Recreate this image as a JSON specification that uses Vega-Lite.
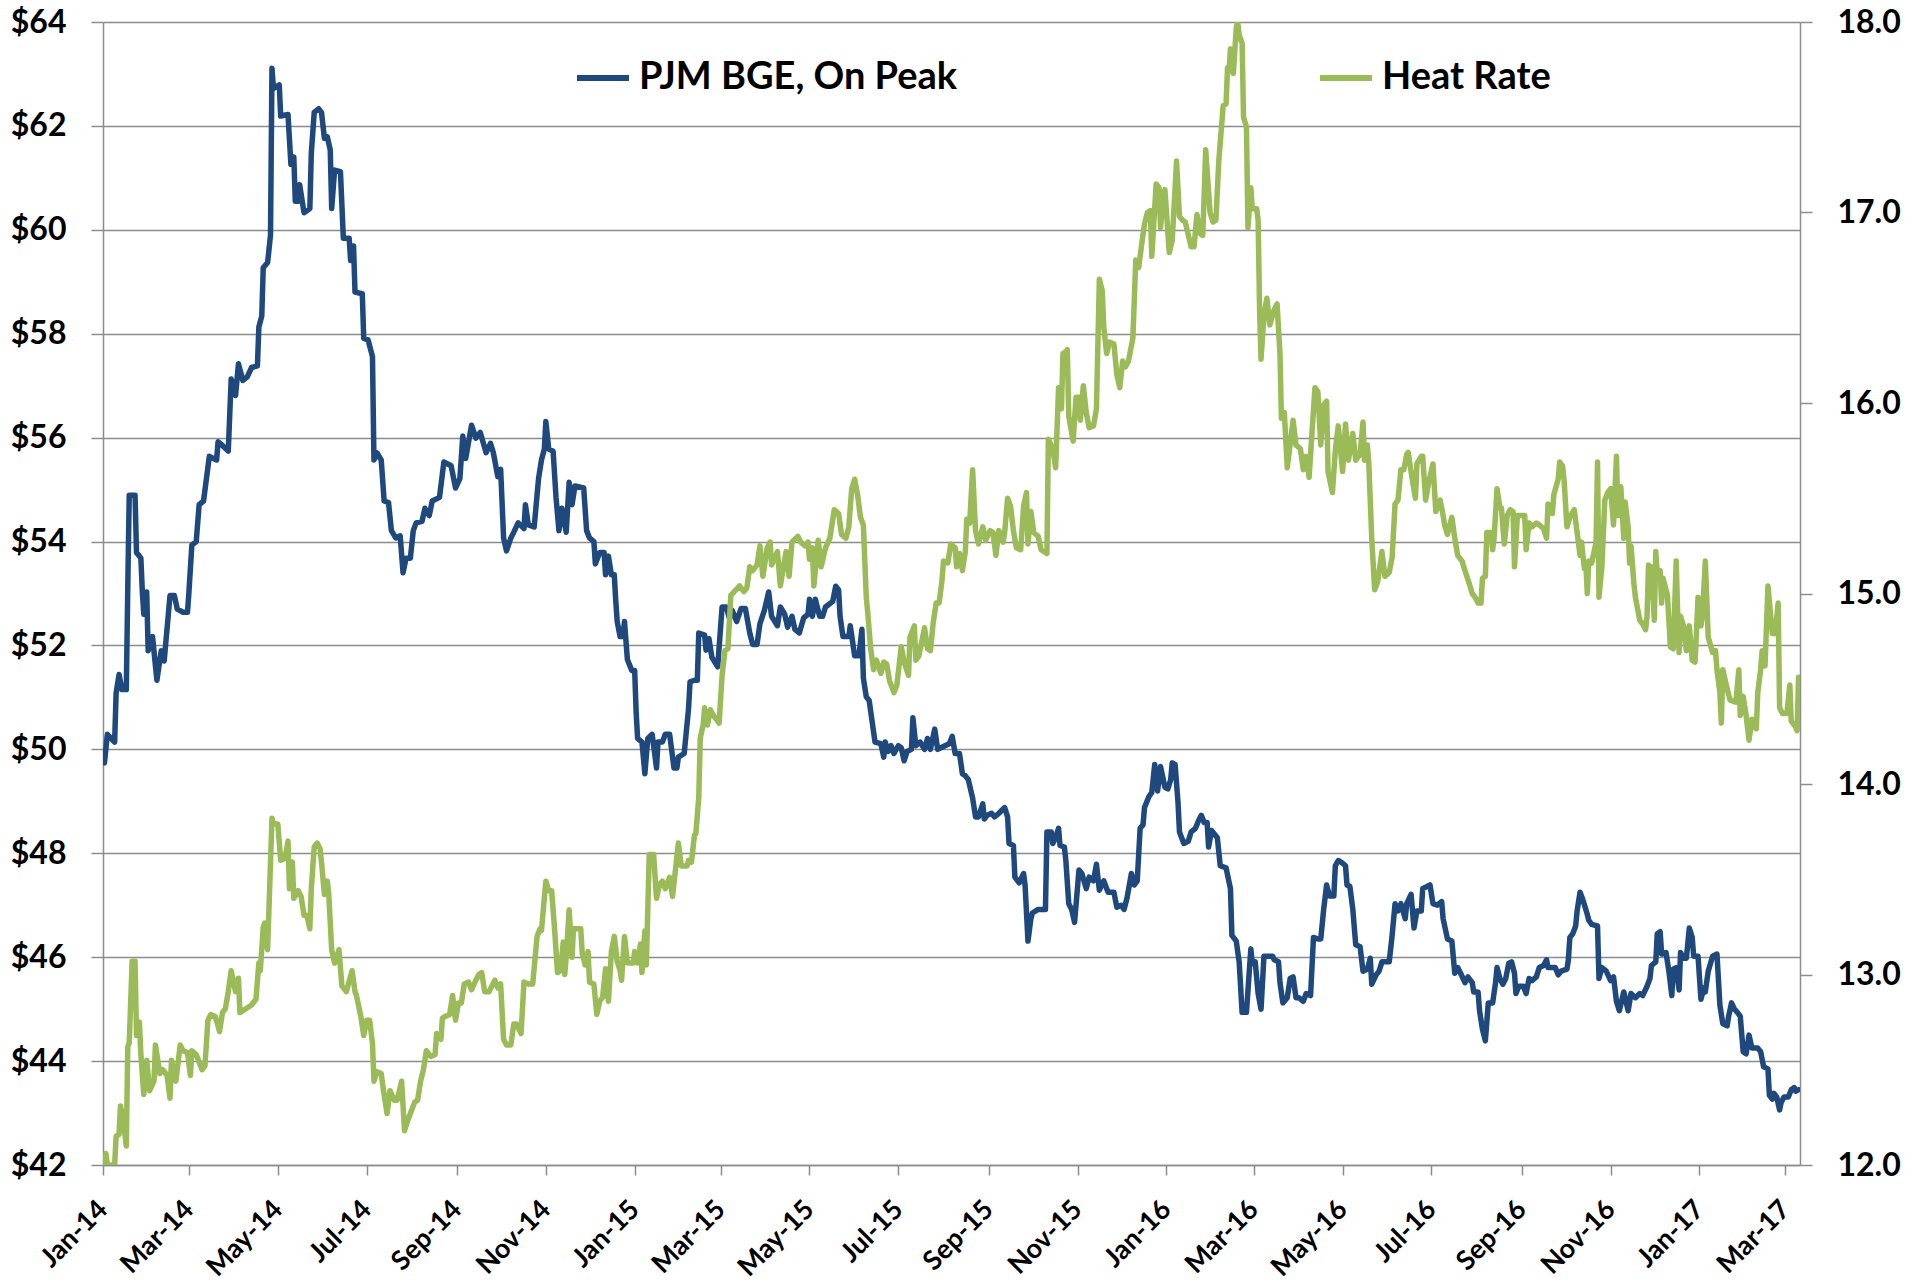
{
"$schema": "https://vega.github.io/schema/vega-lite/v6.json",
"width": 1697,
"height": 1143,
"autosize": {"type": "none"},
"padding": {"left": 103, "top": 22, "right": 127, "bottom": 116},
"background": "white",
"config": {"view": {"stroke": null}, "font": "Lato"},
"encoding": {
  "x": {"field": "d", "type": "temporal",
    "scale": {"domain": [{"year": 2014, "month": 1, "date": 1}, {"year": 2017, "month": 3, "date": 11}]},
    "axis": {"title": null, "format": "%b-%y", "tickCount": {"interval": "month", "step": 2}, "labelAngle": -45,
      "labelAlign": "right", "labelBaseline": "middle",
      "labelFont": "Lato", "labelFontSize": 27, "labelFontWeight": "bold", "labelColor": "black",
      "tickSize": 10, "tickColor": "#8c8c8c", "tickWidth": 1.5, "domainColor": "#8c8c8c", "domainWidth": 1.5,
      "grid": false, "labelPadding": 30, "labelOverlap": false, "labelFlush": false, "labelBound": false}}
},
"layer": [
{
  "data": {"format": {"parse": {"d": "date:'%Y-%j'"}}, "values": [
{"d":"2014-002","v":49.74},{"d":"2014-004","v":50.29},{"d":"2014-009","v":50.14},{"d":"2014-010","v":51.08},{"d":"2014-012","v":51.44},{"d":"2014-014","v":51.15},{"d":"2014-017","v":51.15},{"d":"2014-018","v":53.1},{"d":"2014-019","v":54.89},{"d":"2014-023","v":54.89},{"d":"2014-024","v":53.79},{"d":"2014-027","v":53.68},{"d":"2014-028","v":53.04},{"d":"2014-029","v":52.6},{"d":"2014-031","v":53.03},{"d":"2014-032","v":51.9},{"d":"2014-035","v":52.17},{"d":"2014-038","v":51.33},{"d":"2014-041","v":51.9},{"d":"2014-043","v":51.7},{"d":"2014-047","v":52.96},{"d":"2014-050","v":52.96},{"d":"2014-052","v":52.7},{"d":"2014-056","v":52.64},{"d":"2014-059","v":52.64},{"d":"2014-060","v":53.03},{"d":"2014-062","v":53.93},{"d":"2014-065","v":54.0},{"d":"2014-067","v":54.71},{"d":"2014-070","v":54.78},{"d":"2014-074","v":55.64},{"d":"2014-079","v":55.57},{"d":"2014-080","v":55.92},{"d":"2014-083","v":55.85},{"d":"2014-087","v":55.74},{"d":"2014-089","v":57.13},{"d":"2014-092","v":56.81},{"d":"2014-094","v":57.42},{"d":"2014-097","v":57.1},{"d":"2014-100","v":57.17},{"d":"2014-103","v":57.35},{"d":"2014-107","v":57.38},{"d":"2014-108","v":58.13},{"d":"2014-110","v":58.34},{"d":"2014-111","v":59.27},{"d":"2014-114","v":59.37},{"d":"2014-116","v":59.9},{"d":"2014-117","v":63.11},{"d":"2014-118","v":62.72},{"d":"2014-122","v":62.79},{"d":"2014-123","v":62.19},{"d":"2014-128","v":62.22},{"d":"2014-130","v":61.26},{"d":"2014-132","v":61.4},{"d":"2014-133","v":60.55},{"d":"2014-135","v":60.55},{"d":"2014-136","v":60.87},{"d":"2014-139","v":60.33},{"d":"2014-143","v":60.41},{"d":"2014-144","v":61.47},{"d":"2014-146","v":62.26},{"d":"2014-149","v":62.33},{"d":"2014-151","v":62.26},{"d":"2014-153","v":61.76},{"d":"2014-155","v":61.79},{"d":"2014-157","v":61.54},{"d":"2014-158","v":60.41},{"d":"2014-160","v":61.15},{"d":"2014-164","v":61.12},{"d":"2014-166","v":59.84},{"d":"2014-170","v":59.84},{"d":"2014-171","v":59.41},{"d":"2014-173","v":59.69},{"d":"2014-174","v":58.8},{"d":"2014-179","v":58.77},{"d":"2014-180","v":57.91},{"d":"2014-183","v":57.88},{"d":"2014-186","v":57.56},{"d":"2014-187","v":55.57},{"d":"2014-189","v":55.71},{"d":"2014-192","v":55.57},{"d":"2014-194","v":54.78},{"d":"2014-197","v":54.75},{"d":"2014-199","v":54.21},{"d":"2014-202","v":54.07},{"d":"2014-205","v":54.11},{"d":"2014-207","v":53.4},{"d":"2014-209","v":53.68},{"d":"2014-212","v":53.68},{"d":"2014-214","v":54.21},{"d":"2014-216","v":54.36},{"d":"2014-220","v":54.39},{"d":"2014-222","v":54.64},{"d":"2014-225","v":54.5},{"d":"2014-227","v":54.78},{"d":"2014-232","v":54.85},{"d":"2014-235","v":55.53},{"d":"2014-240","v":55.46},{"d":"2014-243","v":55.03},{"d":"2014-246","v":55.21},{"d":"2014-248","v":56.03},{"d":"2014-250","v":55.6},{"d":"2014-254","v":56.24},{"d":"2014-257","v":55.99},{"d":"2014-260","v":56.1},{"d":"2014-264","v":55.71},{"d":"2014-267","v":55.89},{"d":"2014-269","v":55.71},{"d":"2014-272","v":55.25},{"d":"2014-274","v":55.39},{"d":"2014-276","v":54.07},{"d":"2014-278","v":53.82},{"d":"2014-281","v":54.07},{"d":"2014-283","v":54.18},{"d":"2014-286","v":54.36},{"d":"2014-290","v":54.25},{"d":"2014-291","v":54.71},{"d":"2014-293","v":54.32},{"d":"2014-297","v":54.28},{"d":"2014-300","v":55.21},{"d":"2014-302","v":55.57},{"d":"2014-304","v":55.78},{"d":"2014-305","v":56.31},{"d":"2014-307","v":55.78},{"d":"2014-310","v":55.74},{"d":"2014-312","v":54.85},{"d":"2014-314","v":54.21},{"d":"2014-316","v":54.64},{"d":"2014-319","v":54.18},{"d":"2014-321","v":55.14},{"d":"2014-323","v":54.71},{"d":"2014-325","v":55.07},{"d":"2014-331","v":55.03},{"d":"2014-333","v":54.21},{"d":"2014-335","v":54.07},{"d":"2014-338","v":54.0},{"d":"2014-339","v":53.57},{"d":"2014-342","v":53.79},{"d":"2014-345","v":53.79},{"d":"2014-346","v":53.36},{"d":"2014-348","v":53.72},{"d":"2014-350","v":53.36},{"d":"2014-352","v":53.36},{"d":"2014-353","v":52.86},{"d":"2014-354","v":52.46},{"d":"2014-356","v":52.17},{"d":"2014-358","v":52.17},{"d":"2014-359","v":52.46},{"d":"2014-361","v":51.73},{"d":"2014-364","v":51.52},{"d":"2015-001","v":51.52},{"d":"2015-002","v":50.72},{"d":"2015-003","v":50.21},{"d":"2015-006","v":50.14},{"d":"2015-008","v":49.53},{"d":"2015-010","v":50.21},{"d":"2015-013","v":50.29},{"d":"2015-016","v":49.64},{"d":"2015-017","v":50.14},{"d":"2015-020","v":50.14},{"d":"2015-022","v":50.29},{"d":"2015-025","v":50.29},{"d":"2015-028","v":49.64},{"d":"2015-030","v":49.64},{"d":"2015-031","v":49.85},{"d":"2015-035","v":49.92},{"d":"2015-038","v":50.79},{"d":"2015-039","v":51.3},{"d":"2015-042","v":51.33},{"d":"2015-044","v":51.33},{"d":"2015-045","v":52.24},{"d":"2015-049","v":52.2},{"d":"2015-050","v":51.91},{"d":"2015-052","v":52.13},{"d":"2015-054","v":51.77},{"d":"2015-058","v":51.59},{"d":"2015-061","v":52.74},{"d":"2015-064","v":52.74},{"d":"2015-066","v":52.53},{"d":"2015-068","v":52.67},{"d":"2015-071","v":52.46},{"d":"2015-074","v":52.71},{"d":"2015-077","v":52.71},{"d":"2015-080","v":52.24},{"d":"2015-082","v":52.02},{"d":"2015-085","v":52.02},{"d":"2015-087","v":52.42},{"d":"2015-090","v":52.67},{"d":"2015-093","v":53.03},{"d":"2015-095","v":52.56},{"d":"2015-099","v":52.38},{"d":"2015-101","v":52.74},{"d":"2015-104","v":52.6},{"d":"2015-106","v":52.35},{"d":"2015-109","v":52.56},{"d":"2015-111","v":52.31},{"d":"2015-114","v":52.24},{"d":"2015-117","v":52.53},{"d":"2015-120","v":52.6},{"d":"2015-121","v":52.89},{"d":"2015-123","v":52.56},{"d":"2015-125","v":52.89},{"d":"2015-128","v":52.56},{"d":"2015-130","v":52.56},{"d":"2015-132","v":52.74},{"d":"2015-137","v":52.85},{"d":"2015-139","v":53.14},{"d":"2015-141","v":53.07},{"d":"2015-142","v":52.56},{"d":"2015-144","v":52.17},{"d":"2015-148","v":52.17},{"d":"2015-149","v":52.38},{"d":"2015-152","v":51.8},{"d":"2015-155","v":51.8},{"d":"2015-157","v":52.31},{"d":"2015-158","v":51.37},{"d":"2015-160","v":51.01},{"d":"2015-162","v":50.94},{"d":"2015-164","v":50.54},{"d":"2015-166","v":50.14},{"d":"2015-170","v":50.11},{"d":"2015-172","v":49.85},{"d":"2015-173","v":50.14},{"d":"2015-175","v":49.96},{"d":"2015-177","v":50.07},{"d":"2015-179","v":49.92},{"d":"2015-182","v":50.07},{"d":"2015-184","v":50.03},{"d":"2015-186","v":49.78},{"d":"2015-188","v":49.96},{"d":"2015-191","v":50.0},{"d":"2015-192","v":50.61},{"d":"2015-194","v":50.07},{"d":"2015-197","v":50.14},{"d":"2015-200","v":50.0},{"d":"2015-202","v":50.21},{"d":"2015-204","v":50.0},{"d":"2015-207","v":50.39},{"d":"2015-209","v":50.0},{"d":"2015-214","v":50.07},{"d":"2015-217","v":50.11},{"d":"2015-219","v":50.25},{"d":"2015-221","v":49.92},{"d":"2015-224","v":49.92},{"d":"2015-226","v":49.53},{"d":"2015-228","v":49.49},{"d":"2015-230","v":49.42},{"d":"2015-233","v":49.06},{"d":"2015-235","v":48.7},{"d":"2015-237","v":48.7},{"d":"2015-240","v":48.95},{"d":"2015-241","v":48.66},{"d":"2015-243","v":48.73},{"d":"2015-246","v":48.77},{"d":"2015-248","v":48.7},{"d":"2015-251","v":48.77},{"d":"2015-255","v":48.88},{"d":"2015-257","v":48.7},{"d":"2015-258","v":48.19},{"d":"2015-261","v":48.15},{"d":"2015-262","v":47.54},{"d":"2015-265","v":47.43},{"d":"2015-268","v":47.61},{"d":"2015-269","v":47.39},{"d":"2015-271","v":46.31},{"d":"2015-273","v":46.74},{"d":"2015-274","v":46.85},{"d":"2015-278","v":46.92},{"d":"2015-283","v":46.92},{"d":"2015-284","v":48.41},{"d":"2015-287","v":48.41},{"d":"2015-288","v":48.19},{"d":"2015-290","v":48.3},{"d":"2015-292","v":48.48},{"d":"2015-293","v":48.15},{"d":"2015-296","v":48.12},{"d":"2015-297","v":47.86},{"d":"2015-299","v":47.03},{"d":"2015-301","v":46.92},{"d":"2015-303","v":46.67},{"d":"2015-306","v":47.68},{"d":"2015-308","v":47.61},{"d":"2015-311","v":47.32},{"d":"2015-313","v":47.54},{"d":"2015-316","v":47.47},{"d":"2015-318","v":47.79},{"d":"2015-320","v":47.29},{"d":"2015-323","v":47.47},{"d":"2015-326","v":47.25},{"d":"2015-330","v":47.25},{"d":"2015-332","v":46.96},{"d":"2015-335","v":47.0},{"d":"2015-337","v":46.92},{"d":"2015-339","v":47.14},{"d":"2015-342","v":47.61},{"d":"2015-344","v":47.39},{"d":"2015-346","v":47.47},{"d":"2015-348","v":48.48},{"d":"2015-350","v":48.55},{"d":"2015-351","v":48.88},{"d":"2015-354","v":49.09},{"d":"2015-356","v":49.17},{"d":"2015-358","v":49.71},{"d":"2015-360","v":49.2},{"d":"2015-362","v":49.67},{"d":"2015-365","v":49.27},{"d":"2016-002","v":49.24},{"d":"2016-004","v":49.42},{"d":"2016-005","v":49.74},{"d":"2016-007","v":49.71},{"d":"2016-009","v":48.98},{"d":"2016-010","v":48.41},{"d":"2016-013","v":48.19},{"d":"2016-016","v":48.23},{"d":"2016-018","v":48.41},{"d":"2016-021","v":48.48},{"d":"2016-023","v":48.62},{"d":"2016-025","v":48.73},{"d":"2016-027","v":48.59},{"d":"2016-029","v":48.59},{"d":"2016-030","v":48.12},{"d":"2016-032","v":48.44},{"d":"2016-036","v":48.3},{"d":"2016-038","v":47.76},{"d":"2016-042","v":47.72},{"d":"2016-045","v":47.32},{"d":"2016-046","v":46.42},{"d":"2016-049","v":46.31},{"d":"2016-051","v":45.9},{"d":"2016-053","v":44.94},{"d":"2016-056","v":44.94},{"d":"2016-059","v":46.16},{"d":"2016-060","v":45.88},{"d":"2016-062","v":45.91},{"d":"2016-064","v":45.3},{"d":"2016-066","v":45.0},{"d":"2016-068","v":46.02},{"d":"2016-074","v":46.02},{"d":"2016-075","v":45.95},{"d":"2016-078","v":45.91},{"d":"2016-079","v":45.51},{"d":"2016-081","v":45.12},{"d":"2016-084","v":45.22},{"d":"2016-086","v":45.59},{"d":"2016-088","v":45.62},{"d":"2016-090","v":45.22},{"d":"2016-092","v":45.22},{"d":"2016-095","v":45.15},{"d":"2016-097","v":45.3},{"d":"2016-100","v":45.26},{"d":"2016-102","v":46.38},{"d":"2016-105","v":46.35},{"d":"2016-107","v":46.35},{"d":"2016-109","v":46.92},{"d":"2016-111","v":47.39},{"d":"2016-113","v":47.18},{"d":"2016-116","v":47.18},{"d":"2016-117","v":47.76},{"d":"2016-119","v":47.86},{"d":"2016-121","v":47.83},{"d":"2016-124","v":47.76},{"d":"2016-125","v":47.39},{"d":"2016-127","v":47.36},{"d":"2016-129","v":46.92},{"d":"2016-131","v":46.24},{"d":"2016-134","v":46.2},{"d":"2016-136","v":45.73},{"d":"2016-139","v":45.77},{"d":"2016-141","v":45.98},{"d":"2016-142","v":45.48},{"d":"2016-145","v":45.66},{"d":"2016-147","v":45.73},{"d":"2016-149","v":45.91},{"d":"2016-154","v":45.91},{"d":"2016-156","v":46.42},{"d":"2016-158","v":47.03},{"d":"2016-160","v":46.89},{"d":"2016-162","v":47.03},{"d":"2016-165","v":46.74},{"d":"2016-166","v":47.03},{"d":"2016-169","v":47.21},{"d":"2016-171","v":46.56},{"d":"2016-173","v":46.89},{"d":"2016-176","v":46.89},{"d":"2016-177","v":47.32},{"d":"2016-180","v":47.36},{"d":"2016-182","v":47.39},{"d":"2016-184","v":47.03},{"d":"2016-187","v":47.0},{"d":"2016-190","v":47.07},{"d":"2016-191","v":46.74},{"d":"2016-194","v":46.35},{"d":"2016-197","v":46.31},{"d":"2016-199","v":45.69},{"d":"2016-201","v":45.8},{"d":"2016-203","v":45.69},{"d":"2016-206","v":45.51},{"d":"2016-208","v":45.62},{"d":"2016-211","v":45.51},{"d":"2016-212","v":45.33},{"d":"2016-215","v":45.33},{"d":"2016-216","v":44.97},{"d":"2016-218","v":44.61},{"d":"2016-220","v":44.39},{"d":"2016-222","v":45.12},{"d":"2016-225","v":45.12},{"d":"2016-227","v":45.51},{"d":"2016-228","v":45.8},{"d":"2016-230","v":45.59},{"d":"2016-232","v":45.48},{"d":"2016-234","v":45.59},{"d":"2016-236","v":45.88},{"d":"2016-238","v":45.91},{"d":"2016-240","v":45.69},{"d":"2016-241","v":45.3},{"d":"2016-243","v":45.44},{"d":"2016-246","v":45.44},{"d":"2016-248","v":45.3},{"d":"2016-250","v":45.59},{"d":"2016-252","v":45.55},{"d":"2016-255","v":45.62},{"d":"2016-257","v":45.8},{"d":"2016-260","v":45.84},{"d":"2016-262","v":45.95},{"d":"2016-263","v":45.8},{"d":"2016-268","v":45.8},{"d":"2016-270","v":45.66},{"d":"2016-272","v":45.73},{"d":"2016-276","v":45.77},{"d":"2016-277","v":45.95},{"d":"2016-278","v":46.38},{"d":"2016-280","v":46.45},{"d":"2016-282","v":46.6},{"d":"2016-283","v":46.89},{"d":"2016-285","v":47.25},{"d":"2016-287","v":47.1},{"d":"2016-290","v":46.82},{"d":"2016-291","v":46.71},{"d":"2016-293","v":46.63},{"d":"2016-297","v":46.6},{"d":"2016-298","v":45.59},{"d":"2016-300","v":45.8},{"d":"2016-303","v":45.73},{"d":"2016-306","v":45.55},{"d":"2016-308","v":45.62},{"d":"2016-310","v":45.15},{"d":"2016-312","v":44.97},{"d":"2016-315","v":45.33},{"d":"2016-316","v":45.22},{"d":"2016-318","v":44.97},{"d":"2016-320","v":45.3},{"d":"2016-323","v":45.22},{"d":"2016-326","v":45.3},{"d":"2016-328","v":45.26},{"d":"2016-331","v":45.44},{"d":"2016-333","v":45.59},{"d":"2016-334","v":45.84},{"d":"2016-337","v":45.91},{"d":"2016-338","v":46.45},{"d":"2016-340","v":46.49},{"d":"2016-341","v":46.06},{"d":"2016-344","v":46.09},{"d":"2016-346","v":45.73},{"d":"2016-348","v":45.26},{"d":"2016-349","v":45.77},{"d":"2016-351","v":45.8},{"d":"2016-353","v":45.37},{"d":"2016-354","v":46.09},{"d":"2016-356","v":45.98},{"d":"2016-358","v":45.98},{"d":"2016-360","v":46.56},{"d":"2016-362","v":46.38},{"d":"2016-363","v":46.02},{"d":"2016-366","v":46.02},{"d":"2017-002","v":45.19},{"d":"2017-004","v":45.41},{"d":"2017-005","v":45.33},{"d":"2017-007","v":45.73},{"d":"2017-010","v":46.02},{"d":"2017-013","v":46.06},{"d":"2017-015","v":45.08},{"d":"2017-017","v":44.72},{"d":"2017-020","v":44.68},{"d":"2017-021","v":44.86},{"d":"2017-023","v":45.12},{"d":"2017-025","v":45.0},{"d":"2017-027","v":44.94},{"d":"2017-029","v":44.86},{"d":"2017-031","v":44.18},{"d":"2017-033","v":44.14},{"d":"2017-035","v":44.5},{"d":"2017-037","v":44.25},{"d":"2017-041","v":44.25},{"d":"2017-043","v":44.18},{"d":"2017-045","v":43.89},{"d":"2017-048","v":43.85},{"d":"2017-049","v":43.34},{"d":"2017-051","v":43.27},{"d":"2017-052","v":43.38},{"d":"2017-054","v":43.31},{"d":"2017-056","v":43.06},{"d":"2017-057","v":43.2},{"d":"2017-059","v":43.31},{"d":"2017-062","v":43.31},{"d":"2017-064","v":43.45},{"d":"2017-066","v":43.49},{"d":"2017-067","v":43.42},{"d":"2017-069","v":43.45}
  ]},
  "mark": {"type": "line", "strokeWidth": 5.5, "strokeJoin": "round", "strokeCap": "round", "clip": true},
  "encoding": {
    "y": {"field": "v", "type": "quantitative",
      "scale": {"domain": [42, 64], "nice": false, "zero": false},
      "axis": {"orient": "left", "title": null, "values": [42,44,46,48,50,52,54,56,58,60,62,64], "format": "$.0f",
        "labelFont": "Lato", "labelFontSize": 32, "labelFontWeight": "bold", "labelColor": "black", "labelPadding": 25,
        "tickSize": 12, "tickColor": "#8c8c8c", "tickWidth": 1.5, "domainColor": "#8c8c8c", "domainWidth": 1.5,
        "grid": true, "gridColor": "#8c8c8c", "gridWidth": 1.5}},
    "color": {"datum": "PJM BGE, On Peak", "type": "nominal",
      "scale": {"domain": ["PJM BGE, On Peak", "Heat Rate"], "range": ["#1F497D", "#9BBB59"]},
      "legend": {"orient": "none", "legendX": 471, "legendY": 27, "direction": "horizontal", "title": null,
        "symbolType": "stroke", "symbolSize": 2704, "symbolStrokeWidth": 6,
        "labelFont": "Lato", "labelFontSize": 38, "labelFontWeight": "bold", "labelColor": "black",
        "labelOffset": 7, "columnPadding": 350, "labelLimit": 1000}}
  }
},
{
  "data": {"format": {"parse": {"d": "date:'%Y-%j'"}}, "values": [
{"d":"2014-002","v":12.0},{"d":"2014-003","v":12.06},{"d":"2014-004","v":12.0},{"d":"2014-009","v":12.0},{"d":"2014-010","v":12.15},{"d":"2014-012","v":12.16},{"d":"2014-013","v":12.31},{"d":"2014-015","v":12.23},{"d":"2014-017","v":12.1},{"d":"2014-018","v":12.62},{"d":"2014-019","v":12.64},{"d":"2014-021","v":13.07},{"d":"2014-023","v":13.07},{"d":"2014-024","v":12.68},{"d":"2014-026","v":12.75},{"d":"2014-027","v":12.58},{"d":"2014-029","v":12.37},{"d":"2014-031","v":12.55},{"d":"2014-033","v":12.39},{"d":"2014-036","v":12.44},{"d":"2014-037","v":12.63},{"d":"2014-040","v":12.48},{"d":"2014-042","v":12.5},{"d":"2014-045","v":12.47},{"d":"2014-047","v":12.35},{"d":"2014-048","v":12.55},{"d":"2014-051","v":12.44},{"d":"2014-054","v":12.63},{"d":"2014-056","v":12.6},{"d":"2014-059","v":12.59},{"d":"2014-061","v":12.47},{"d":"2014-062","v":12.6},{"d":"2014-065","v":12.58},{"d":"2014-069","v":12.5},{"d":"2014-071","v":12.52},{"d":"2014-073","v":12.76},{"d":"2014-075","v":12.79},{"d":"2014-078","v":12.78},{"d":"2014-080","v":12.73},{"d":"2014-081","v":12.7},{"d":"2014-083","v":12.8},{"d":"2014-085","v":12.82},{"d":"2014-087","v":12.91},{"d":"2014-089","v":13.02},{"d":"2014-092","v":12.91},{"d":"2014-094","v":12.98},{"d":"2014-095","v":12.8},{"d":"2014-099","v":12.82},{"d":"2014-103","v":12.84},{"d":"2014-106","v":12.87},{"d":"2014-108","v":13.06},{"d":"2014-109","v":13.02},{"d":"2014-111","v":13.25},{"d":"2014-112","v":13.27},{"d":"2014-114","v":13.13},{"d":"2014-117","v":13.82},{"d":"2014-118","v":13.79},{"d":"2014-121","v":13.79},{"d":"2014-123","v":13.6},{"d":"2014-126","v":13.61},{"d":"2014-128","v":13.7},{"d":"2014-129","v":13.45},{"d":"2014-131","v":13.59},{"d":"2014-132","v":13.4},{"d":"2014-135","v":13.44},{"d":"2014-137","v":13.41},{"d":"2014-139","v":13.31},{"d":"2014-141","v":13.31},{"d":"2014-143","v":13.24},{"d":"2014-144","v":13.45},{"d":"2014-146","v":13.67},{"d":"2014-148","v":13.69},{"d":"2014-150","v":13.66},{"d":"2014-151","v":13.59},{"d":"2014-153","v":13.42},{"d":"2014-155","v":13.49},{"d":"2014-156","v":13.42},{"d":"2014-158","v":13.13},{"d":"2014-160","v":13.06},{"d":"2014-163","v":13.13},{"d":"2014-165","v":12.94},{"d":"2014-168","v":12.91},{"d":"2014-172","v":13.02},{"d":"2014-174","v":12.91},{"d":"2014-175","v":12.89},{"d":"2014-178","v":12.78},{"d":"2014-180","v":12.68},{"d":"2014-182","v":12.76},{"d":"2014-184","v":12.76},{"d":"2014-186","v":12.64},{"d":"2014-187","v":12.44},{"d":"2014-189","v":12.49},{"d":"2014-192","v":12.48},{"d":"2014-193","v":12.42},{"d":"2014-196","v":12.27},{"d":"2014-198","v":12.39},{"d":"2014-201","v":12.34},{"d":"2014-203","v":12.34},{"d":"2014-206","v":12.44},{"d":"2014-208","v":12.18},{"d":"2014-210","v":12.23},{"d":"2014-212","v":12.27},{"d":"2014-215","v":12.33},{"d":"2014-217","v":12.34},{"d":"2014-219","v":12.44},{"d":"2014-221","v":12.5},{"d":"2014-223","v":12.6},{"d":"2014-226","v":12.57},{"d":"2014-229","v":12.58},{"d":"2014-230","v":12.69},{"d":"2014-233","v":12.66},{"d":"2014-234","v":12.77},{"d":"2014-236","v":12.78},{"d":"2014-239","v":12.79},{"d":"2014-241","v":12.89},{"d":"2014-243","v":12.76},{"d":"2014-245","v":12.85},{"d":"2014-247","v":12.85},{"d":"2014-249","v":12.95},{"d":"2014-252","v":12.96},{"d":"2014-254","v":12.92},{"d":"2014-257","v":12.97},{"d":"2014-259","v":13.0},{"d":"2014-261","v":13.01},{"d":"2014-263","v":12.91},{"d":"2014-266","v":12.91},{"d":"2014-268","v":12.94},{"d":"2014-270","v":12.97},{"d":"2014-272","v":12.93},{"d":"2014-274","v":12.95},{"d":"2014-276","v":12.66},{"d":"2014-278","v":12.63},{"d":"2014-281","v":12.63},{"d":"2014-283","v":12.74},{"d":"2014-285","v":12.74},{"d":"2014-288","v":12.69},{"d":"2014-290","v":12.96},{"d":"2014-293","v":12.95},{"d":"2014-296","v":12.95},{"d":"2014-299","v":13.2},{"d":"2014-301","v":13.24},{"d":"2014-302","v":13.23},{"d":"2014-305","v":13.49},{"d":"2014-307","v":13.44},{"d":"2014-309","v":13.44},{"d":"2014-311","v":13.24},{"d":"2014-313","v":13.01},{"d":"2014-315","v":13.02},{"d":"2014-317","v":13.17},{"d":"2014-318","v":13.0},{"d":"2014-319","v":13.09},{"d":"2014-321","v":13.34},{"d":"2014-323","v":13.09},{"d":"2014-324","v":13.24},{"d":"2014-326","v":13.24},{"d":"2014-329","v":13.24},{"d":"2014-330","v":13.11},{"d":"2014-332","v":13.05},{"d":"2014-334","v":13.12},{"d":"2014-335","v":12.96},{"d":"2014-338","v":12.95},{"d":"2014-340","v":12.79},{"d":"2014-342","v":12.86},{"d":"2014-344","v":12.88},{"d":"2014-346","v":13.03},{"d":"2014-348","v":12.86},{"d":"2014-350","v":13.12},{"d":"2014-352","v":13.2},{"d":"2014-354","v":13.07},{"d":"2014-356","v":13.02},{"d":"2014-357","v":12.97},{"d":"2014-359","v":13.2},{"d":"2014-361","v":13.06},{"d":"2014-365","v":13.06},{"d":"2015-001","v":13.12},{"d":"2015-003","v":13.06},{"d":"2015-005","v":13.16},{"d":"2015-006","v":13.01},{"d":"2015-008","v":13.23},{"d":"2015-009","v":13.05},{"d":"2015-011","v":13.63},{"d":"2015-014","v":13.63},{"d":"2015-016","v":13.4},{"d":"2015-018","v":13.47},{"d":"2015-020","v":13.49},{"d":"2015-022","v":13.45},{"d":"2015-025","v":13.51},{"d":"2015-027","v":13.41},{"d":"2015-029","v":13.55},{"d":"2015-031","v":13.69},{"d":"2015-033","v":13.57},{"d":"2015-037","v":13.57},{"d":"2015-038","v":13.6},{"d":"2015-040","v":13.59},{"d":"2015-042","v":13.73},{"d":"2015-043","v":13.74},{"d":"2015-045","v":13.93},{"d":"2015-046","v":14.24},{"d":"2015-048","v":14.31},{"d":"2015-049","v":14.4},{"d":"2015-051","v":14.31},{"d":"2015-053","v":14.39},{"d":"2015-055","v":14.36},{"d":"2015-058","v":14.33},{"d":"2015-059","v":14.32},{"d":"2015-061","v":14.57},{"d":"2015-063","v":14.7},{"d":"2015-065","v":14.71},{"d":"2015-067","v":14.99},{"d":"2015-073","v":15.04},{"d":"2015-076","v":15.01},{"d":"2015-078","v":15.03},{"d":"2015-080","v":15.14},{"d":"2015-082","v":15.12},{"d":"2015-085","v":15.15},{"d":"2015-087","v":15.25},{"d":"2015-089","v":15.09},{"d":"2015-092","v":15.24},{"d":"2015-094","v":15.27},{"d":"2015-095","v":15.15},{"d":"2015-099","v":15.22},{"d":"2015-101","v":15.04},{"d":"2015-104","v":15.18},{"d":"2015-105","v":15.22},{"d":"2015-107","v":15.09},{"d":"2015-109","v":15.27},{"d":"2015-113","v":15.3},{"d":"2015-115","v":15.27},{"d":"2015-118","v":15.25},{"d":"2015-120","v":15.27},{"d":"2015-121","v":15.18},{"d":"2015-123","v":15.24},{"d":"2015-124","v":15.04},{"d":"2015-127","v":15.28},{"d":"2015-129","v":15.14},{"d":"2015-132","v":15.24},{"d":"2015-135","v":15.29},{"d":"2015-138","v":15.44},{"d":"2015-141","v":15.42},{"d":"2015-143","v":15.31},{"d":"2015-146","v":15.29},{"d":"2015-148","v":15.35},{"d":"2015-150","v":15.55},{"d":"2015-152","v":15.6},{"d":"2015-154","v":15.52},{"d":"2015-156","v":15.4},{"d":"2015-158","v":15.36},{"d":"2015-160","v":14.98},{"d":"2015-161","v":14.9},{"d":"2015-163","v":14.71},{"d":"2015-165","v":14.6},{"d":"2015-167","v":14.65},{"d":"2015-170","v":14.58},{"d":"2015-172","v":14.64},{"d":"2015-174","v":14.63},{"d":"2015-176","v":14.54},{"d":"2015-179","v":14.48},{"d":"2015-181","v":14.52},{"d":"2015-184","v":14.72},{"d":"2015-186","v":14.64},{"d":"2015-189","v":14.57},{"d":"2015-190","v":14.77},{"d":"2015-193","v":14.83},{"d":"2015-194","v":14.65},{"d":"2015-196","v":14.67},{"d":"2015-200","v":14.82},{"d":"2015-202","v":14.71},{"d":"2015-204","v":14.7},{"d":"2015-206","v":14.85},{"d":"2015-208","v":14.95},{"d":"2015-210","v":14.95},{"d":"2015-212","v":15.07},{"d":"2015-213","v":15.17},{"d":"2015-216","v":15.16},{"d":"2015-218","v":15.26},{"d":"2015-221","v":15.24},{"d":"2015-222","v":15.14},{"d":"2015-224","v":15.21},{"d":"2015-226","v":15.12},{"d":"2015-228","v":15.22},{"d":"2015-229","v":15.39},{"d":"2015-231","v":15.37},{"d":"2015-233","v":15.65},{"d":"2015-235","v":15.33},{"d":"2015-237","v":15.26},{"d":"2015-240","v":15.35},{"d":"2015-242","v":15.28},{"d":"2015-245","v":15.33},{"d":"2015-247","v":15.32},{"d":"2015-249","v":15.2},{"d":"2015-251","v":15.33},{"d":"2015-254","v":15.27},{"d":"2015-255","v":15.32},{"d":"2015-257","v":15.5},{"d":"2015-259","v":15.46},{"d":"2015-261","v":15.33},{"d":"2015-263","v":15.24},{"d":"2015-266","v":15.23},{"d":"2015-268","v":15.46},{"d":"2015-270","v":15.53},{"d":"2015-271","v":15.26},{"d":"2015-273","v":15.43},{"d":"2015-275","v":15.32},{"d":"2015-278","v":15.3},{"d":"2015-280","v":15.23},{"d":"2015-284","v":15.21},{"d":"2015-285","v":15.81},{"d":"2015-288","v":15.76},{"d":"2015-290","v":15.66},{"d":"2015-292","v":16.08},{"d":"2015-294","v":15.97},{"d":"2015-295","v":16.26},{"d":"2015-297","v":16.27},{"d":"2015-298","v":16.28},{"d":"2015-299","v":15.93},{"d":"2015-302","v":15.8},{"d":"2015-304","v":16.03},{"d":"2015-306","v":16.03},{"d":"2015-307","v":15.91},{"d":"2015-309","v":16.09},{"d":"2015-311","v":15.95},{"d":"2015-313","v":15.87},{"d":"2015-316","v":15.88},{"d":"2015-318","v":15.97},{"d":"2015-320","v":16.65},{"d":"2015-322","v":16.59},{"d":"2015-323","v":16.4},{"d":"2015-325","v":16.26},{"d":"2015-327","v":16.32},{"d":"2015-330","v":16.31},{"d":"2015-332","v":16.15},{"d":"2015-334","v":16.08},{"d":"2015-336","v":16.22},{"d":"2015-338","v":16.19},{"d":"2015-340","v":16.22},{"d":"2015-343","v":16.34},{"d":"2015-344","v":16.54},{"d":"2015-345","v":16.75},{"d":"2015-347","v":16.71},{"d":"2015-349","v":16.83},{"d":"2015-351","v":16.94},{"d":"2015-353","v":17.0},{"d":"2015-355","v":17.01},{"d":"2015-356","v":16.77},{"d":"2015-359","v":17.15},{"d":"2015-361","v":17.13},{"d":"2015-362","v":16.92},{"d":"2015-363","v":17.01},{"d":"2015-365","v":17.12},{"d":"2016-003","v":16.79},{"d":"2016-005","v":16.85},{"d":"2016-008","v":17.27},{"d":"2016-010","v":16.98},{"d":"2016-012","v":16.96},{"d":"2016-014","v":16.95},{"d":"2016-018","v":16.82},{"d":"2016-020","v":16.82},{"d":"2016-022","v":16.99},{"d":"2016-024","v":16.89},{"d":"2016-026","v":16.88},{"d":"2016-028","v":17.33},{"d":"2016-031","v":17.0},{"d":"2016-033","v":16.95},{"d":"2016-035","v":16.96},{"d":"2016-037","v":17.27},{"d":"2016-040","v":17.56},{"d":"2016-042","v":17.57},{"d":"2016-043","v":17.76},{"d":"2016-044","v":17.74},{"d":"2016-045","v":17.86},{"d":"2016-047","v":17.73},{"d":"2016-049","v":17.97},{"d":"2016-050","v":18.0},{"d":"2016-051","v":17.93},{"d":"2016-053","v":17.89},{"d":"2016-054","v":17.5},{"d":"2016-056","v":17.45},{"d":"2016-057","v":16.92},{"d":"2016-059","v":17.13},{"d":"2016-060","v":17.02},{"d":"2016-063","v":17.02},{"d":"2016-064","v":16.96},{"d":"2016-065","v":16.49},{"d":"2016-066","v":16.23},{"d":"2016-068","v":16.46},{"d":"2016-070","v":16.55},{"d":"2016-072","v":16.41},{"d":"2016-075","v":16.49},{"d":"2016-077","v":16.52},{"d":"2016-079","v":16.26},{"d":"2016-080","v":15.92},{"d":"2016-082","v":15.95},{"d":"2016-084","v":15.66},{"d":"2016-088","v":15.91},{"d":"2016-090","v":15.78},{"d":"2016-093","v":15.76},{"d":"2016-095","v":15.65},{"d":"2016-097","v":15.72},{"d":"2016-099","v":15.61},{"d":"2016-103","v":16.08},{"d":"2016-105","v":16.06},{"d":"2016-107","v":15.78},{"d":"2016-109","v":15.99},{"d":"2016-111","v":16.01},{"d":"2016-112","v":15.64},{"d":"2016-115","v":15.53},{"d":"2016-117","v":15.75},{"d":"2016-119","v":15.88},{"d":"2016-122","v":15.64},{"d":"2016-124","v":15.89},{"d":"2016-126","v":15.7},{"d":"2016-129","v":15.84},{"d":"2016-131","v":15.7},{"d":"2016-134","v":15.73},{"d":"2016-136","v":15.9},{"d":"2016-137","v":15.7},{"d":"2016-139","v":15.78},{"d":"2016-140","v":15.68},{"d":"2016-142","v":15.29},{"d":"2016-144","v":15.02},{"d":"2016-146","v":15.06},{"d":"2016-149","v":15.22},{"d":"2016-151","v":15.09},{"d":"2016-154","v":15.11},{"d":"2016-156","v":15.19},{"d":"2016-158","v":15.47},{"d":"2016-160","v":15.49},{"d":"2016-162","v":15.65},{"d":"2016-164","v":15.65},{"d":"2016-166","v":15.73},{"d":"2016-167","v":15.74},{"d":"2016-170","v":15.59},{"d":"2016-172","v":15.5},{"d":"2016-173","v":15.68},{"d":"2016-176","v":15.72},{"d":"2016-177","v":15.72},{"d":"2016-179","v":15.49},{"d":"2016-181","v":15.58},{"d":"2016-184","v":15.68},{"d":"2016-186","v":15.43},{"d":"2016-189","v":15.49},{"d":"2016-191","v":15.41},{"d":"2016-192","v":15.36},{"d":"2016-194","v":15.31},{"d":"2016-197","v":15.4},{"d":"2016-199","v":15.29},{"d":"2016-201","v":15.2},{"d":"2016-204","v":15.17},{"d":"2016-206","v":15.12},{"d":"2016-209","v":15.05},{"d":"2016-211","v":15.0},{"d":"2016-213","v":14.98},{"d":"2016-215","v":14.95},{"d":"2016-217","v":14.95},{"d":"2016-218","v":15.08},{"d":"2016-220","v":15.09},{"d":"2016-221","v":15.32},{"d":"2016-224","v":15.32},{"d":"2016-225","v":15.23},{"d":"2016-226","v":15.29},{"d":"2016-228","v":15.55},{"d":"2016-230","v":15.45},{"d":"2016-231","v":15.45},{"d":"2016-233","v":15.26},{"d":"2016-235","v":15.41},{"d":"2016-237","v":15.44},{"d":"2016-239","v":15.43},{"d":"2016-240","v":15.14},{"d":"2016-242","v":15.41},{"d":"2016-245","v":15.41},{"d":"2016-247","v":15.41},{"d":"2016-248","v":15.23},{"d":"2016-250","v":15.37},{"d":"2016-252","v":15.35},{"d":"2016-255","v":15.37},{"d":"2016-257","v":15.36},{"d":"2016-260","v":15.34},{"d":"2016-262","v":15.29},{"d":"2016-263","v":15.47},{"d":"2016-266","v":15.42},{"d":"2016-267","v":15.52},{"d":"2016-270","v":15.6},{"d":"2016-271","v":15.69},{"d":"2016-273","v":15.67},{"d":"2016-274","v":15.6},{"d":"2016-276","v":15.35},{"d":"2016-278","v":15.4},{"d":"2016-281","v":15.44},{"d":"2016-283","v":15.32},{"d":"2016-285","v":15.2},{"d":"2016-286","v":15.27},{"d":"2016-288","v":15.13},{"d":"2016-289","v":15.15},{"d":"2016-290","v":15.0},{"d":"2016-291","v":15.17},{"d":"2016-293","v":15.16},{"d":"2016-296","v":15.27},{"d":"2016-297","v":15.69},{"d":"2016-298","v":14.98},{"d":"2016-300","v":15.14},{"d":"2016-302","v":15.49},{"d":"2016-304","v":15.53},{"d":"2016-306","v":15.55},{"d":"2016-308","v":15.36},{"d":"2016-310","v":15.72},{"d":"2016-311","v":15.41},{"d":"2016-313","v":15.56},{"d":"2016-315","v":15.29},{"d":"2016-316","v":15.48},{"d":"2016-318","v":15.35},{"d":"2016-319","v":15.16},{"d":"2016-320","v":15.25},{"d":"2016-322","v":15.05},{"d":"2016-323","v":14.98},{"d":"2016-326","v":14.86},{"d":"2016-328","v":14.84},{"d":"2016-330","v":14.81},{"d":"2016-331","v":14.88},{"d":"2016-332","v":15.15},{"d":"2016-333","v":14.98},{"d":"2016-334","v":15.14},{"d":"2016-336","v":14.86},{"d":"2016-337","v":15.22},{"d":"2016-338","v":15.1},{"d":"2016-340","v":15.12},{"d":"2016-341","v":14.95},{"d":"2016-342","v":15.08},{"d":"2016-345","v":14.99},{"d":"2016-347","v":14.72},{"d":"2016-349","v":14.71},{"d":"2016-351","v":15.17},{"d":"2016-352","v":14.9},{"d":"2016-353","v":14.69},{"d":"2016-354","v":14.88},{"d":"2016-356","v":14.83},{"d":"2016-358","v":14.7},{"d":"2016-360","v":14.83},{"d":"2016-362","v":14.65},{"d":"2016-364","v":14.64},{"d":"2016-366","v":14.98},{"d":"2017-002","v":14.83},{"d":"2017-003","v":14.88},{"d":"2017-005","v":15.17},{"d":"2017-007","v":14.77},{"d":"2017-010","v":14.69},{"d":"2017-012","v":14.7},{"d":"2017-013","v":14.6},{"d":"2017-015","v":14.48},{"d":"2017-016","v":14.32},{"d":"2017-017","v":14.6},{"d":"2017-020","v":14.5},{"d":"2017-022","v":14.44},{"d":"2017-026","v":14.43},{"d":"2017-028","v":14.6},{"d":"2017-029","v":14.36},{"d":"2017-031","v":14.46},{"d":"2017-033","v":14.36},{"d":"2017-035","v":14.23},{"d":"2017-037","v":14.34},{"d":"2017-040","v":14.29},{"d":"2017-041","v":14.48},{"d":"2017-043","v":14.6},{"d":"2017-044","v":14.7},{"d":"2017-046","v":14.62},{"d":"2017-048","v":15.04},{"d":"2017-051","v":14.79},{"d":"2017-053","v":14.79},{"d":"2017-055","v":14.95},{"d":"2017-056","v":14.4},{"d":"2017-058","v":14.37},{"d":"2017-061","v":14.37},{"d":"2017-063","v":14.52},{"d":"2017-064","v":14.33},{"d":"2017-067","v":14.3},{"d":"2017-068","v":14.28},{"d":"2017-069","v":14.56}
  ]},
  "mark": {"type": "line", "strokeWidth": 5.5, "strokeJoin": "round", "strokeCap": "round", "clip": true},
  "encoding": {
    "y": {"field": "v", "type": "quantitative",
      "scale": {"domain": [12, 18], "nice": false, "zero": false},
      "axis": {"orient": "right", "title": null, "values": [12,13,14,15,16,17,18], "format": ".1f",
        "labelFont": "Lato", "labelFontSize": 32, "labelFontWeight": "bold", "labelColor": "black", "labelPadding": 25,
        "tickSize": 12, "tickColor": "#8c8c8c", "tickWidth": 1.5, "domainColor": "#8c8c8c", "domainWidth": 1.5,
        "grid": false}},
    "color": {"datum": "Heat Rate", "type": "nominal"}
  }
}
],
"resolve": {"scale": {"y": "independent"}, "axis": {"y": "independent"}}
}
